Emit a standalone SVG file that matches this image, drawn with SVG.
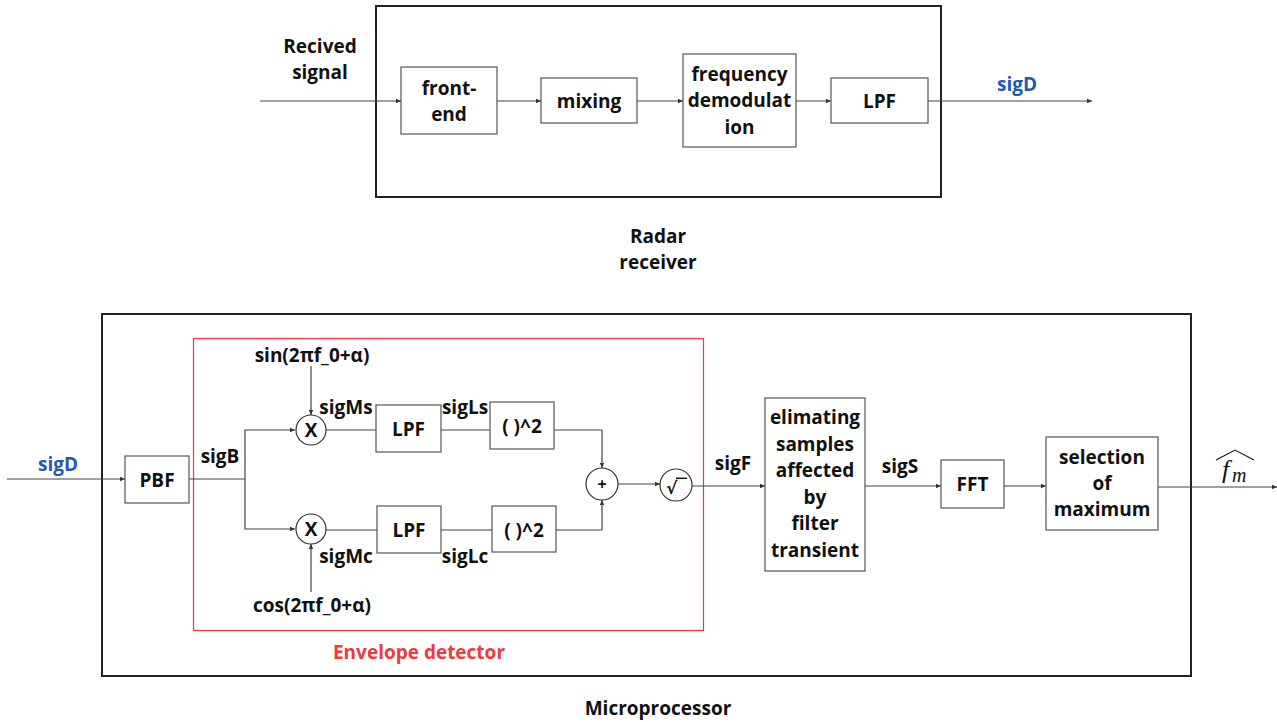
<svg xmlns="http://www.w3.org/2000/svg" width="1277" height="722" viewBox="0 0 1277 722">
<defs>
<marker id="ah" markerWidth="6" markerHeight="6" refX="5" refY="3" orient="auto" markerUnits="userSpaceOnUse">
<path d="M0,0.8 L5,3 L0,5.2 z" fill="#333"/>
</marker>
<style>
.t{font-family:"Open Sans","Liberation Sans",sans-serif;font-weight:bold;font-size:19px;fill:#111;text-anchor:middle}
.blue{fill:#1f5bb5}
.red{fill:#f0393c}
.box{fill:#fff;stroke:#555;stroke-width:1.2}
.frame{fill:none;stroke:#222;stroke-width:2}
.c{fill:none;stroke:#444;stroke-width:1.2}
.circ{fill:#fff;stroke:#333;stroke-width:1.2}
</style>
</defs>
<rect width="1277" height="722" fill="#fff"/>

<g id="radar-receiver">
<rect class="frame" x="376" y="6" width="565" height="191"/>
<text class="t" x="658" y="243">Radar</text>
<text class="t" x="658" y="269">receiver</text>
</g>
<g id="microprocessor">
<rect class="frame" x="102" y="314" width="1089" height="362"/>
<text class="t" x="658" y="715">Microprocessor</text>
</g>
<g id="envelope-detector">
<rect x="193.5" y="338.5" width="510" height="292" fill="none" stroke="#f0393c" stroke-width="1.2"/>
<text class="t red" x="419" y="659">Envelope detector</text>
</g>

<g id="connectors">
<path class="c" d="M260,101 H401" marker-end="url(#ah)"/>
<path class="c" d="M497,101 H541" marker-end="url(#ah)"/>
<path class="c" d="M637,101 H683" marker-end="url(#ah)"/>
<path class="c" d="M796,101 H831" marker-end="url(#ah)"/>
<path class="c" d="M928,101 H1092" marker-end="url(#ah)"/>
<path class="c" d="M7,479 H125" marker-end="url(#ah)"/>
<path class="c" d="M189,479 H245"/>
<path class="c" d="M245,479 V430 H295" marker-end="url(#ah)"/>
<path class="c" d="M245,479 V529 H295" marker-end="url(#ah)"/>
<path class="c" d="M311,366 V415" marker-end="url(#ah)"/>
<path class="c" d="M311,592 V544" marker-end="url(#ah)"/>
<path class="c" d="M326,430 H376"/>
<path class="c" d="M326,530 H377"/>
<path class="c" d="M441,430 H490"/>
<path class="c" d="M441,530 H492"/>
<path class="c" d="M554,430 H602 V468" marker-end="url(#ah)"/>
<path class="c" d="M556,530 H602 V500" marker-end="url(#ah)"/>
<path class="c" d="M618,484 H660" marker-end="url(#ah)"/>
<path class="c" d="M692,486 H765" marker-end="url(#ah)"/>
<path class="c" d="M865,486 H941" marker-end="url(#ah)"/>
<path class="c" d="M1004,486 H1046" marker-end="url(#ah)"/>
<path class="c" d="M1158,487 H1277" marker-end="url(#ah)"/>
</g>

<g id="labels">
<text class="t" x="320" y="53">Recived</text>
<text class="t" x="320" y="79">signal</text>
<text class="t blue" x="1017" y="91">sigD</text>
<text class="t blue" x="58" y="471">sigD</text>
<text class="t" x="220" y="463">sigB</text>
<text class="t" x="312" y="362">sin(2πf_0+α)</text>
<text class="t" x="312" y="612">cos(2πf_0+α)</text>
<text class="t" x="346" y="414">sigMs</text>
<text class="t" x="346" y="563">sigMc</text>
<text class="t" x="465" y="414">sigLs</text>
<text class="t" x="465" y="563">sigLc</text>
<text class="t" x="733" y="470">sigF</text>
<text class="t" x="900" y="473">sigS</text>
<g id="fm-hat">
<text x="1222" y="478" font-family="'Liberation Serif',serif" font-style="italic" font-size="26" fill="#111">f</text>
<text x="1232" y="482" font-family="'Liberation Serif',serif" font-style="italic" font-size="20" fill="#111">m</text>
<path d="M1216,460 L1235,450 L1254,460" fill="none" stroke="#111" stroke-width="1.1"/>
</g>
</g>

<g id="front-end"><rect class="box" x="401" y="67" width="96" height="67"/><text class="t" x="449" y="95">front-</text><text class="t" x="449" y="121">end</text></g>
<g id="mixing"><rect class="box" x="541" y="78" width="96" height="45"/><text class="t" x="589" y="108">mixing</text></g>
<g id="freq-demod"><rect class="box" x="683" y="54" width="113" height="93"/><text class="t" x="739.5" y="81">frequency</text><text class="t" x="739.5" y="107">demodulat</text><text class="t" x="739.5" y="134">ion</text></g>
<g id="lpf-rx"><rect class="box" x="831" y="78" width="97" height="45"/><text class="t" x="879.5" y="108">LPF</text></g>

<g id="pbf"><rect class="box" x="125" y="456" width="64" height="47"/><text class="t" x="157" y="487">PBF</text></g>
<g id="mult-s"><circle class="circ" cx="311" cy="430" r="15"/><text class="t" x="311" y="437">X</text></g>
<g id="mult-c"><circle class="circ" cx="311" cy="529" r="15"/><text class="t" x="311" y="536">X</text></g>
<g id="lpf-s"><rect class="box" x="376" y="405" width="65" height="47"/><text class="t" x="408.5" y="436">LPF</text></g>
<g id="lpf-c"><rect class="box" x="377" y="506" width="64" height="47"/><text class="t" x="409" y="537">LPF</text></g>
<g id="sq-s"><rect class="box" x="490" y="402" width="64" height="47"/><text class="t" x="522" y="433">( )^2</text></g>
<g id="sq-c"><rect class="box" x="492" y="506" width="64" height="46"/><text class="t" x="524" y="537">( )^2</text></g>
<g id="sum"><circle class="circ" cx="602" cy="484" r="16"/><text class="t" x="602" y="490" style="font-size:16px">+</text></g>
<g id="sqrt"><circle class="circ" cx="676" cy="485" r="16"/><text x="666" y="494" font-family="'DejaVu Sans',sans-serif" font-weight="bold" font-size="17" fill="#111">√</text><line x1="676" y1="478.3" x2="687" y2="478.3" stroke="#111" stroke-width="1.5"/></g>
<g id="eliminating"><rect class="box" x="765" y="398" width="100" height="173"/>
<text class="t" x="815" y="424">elimating</text><text class="t" x="815" y="451">samples</text><text class="t" x="815" y="477">affected</text><text class="t" x="815" y="504">by</text><text class="t" x="815" y="530">filter</text><text class="t" x="815" y="557">transient</text></g>
<g id="fft"><rect class="box" x="941" y="460" width="63" height="48"/><text class="t" x="972.5" y="491">FFT</text></g>
<g id="selection"><rect class="box" x="1046" y="437" width="112" height="93"/><text class="t" x="1102" y="464">selection</text><text class="t" x="1102" y="490">of</text><text class="t" x="1102" y="516">maximum</text></g>
</svg>
